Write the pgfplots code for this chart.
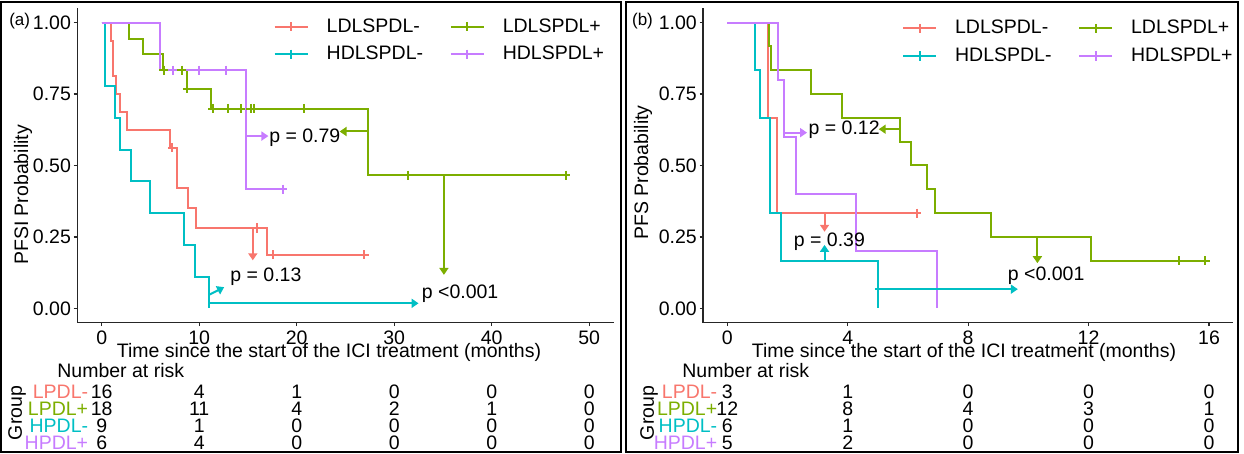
\documentclass[border=0pt]{standalone}
\usepackage{fontspec}
\setmainfont{Liberation Sans}
\usepackage{pgfplots}
\pgfplotsset{compat=1.18}
\usetikzlibrary{arrows.meta}
\definecolor{cR}{HTML}{F8766D}
\definecolor{cG}{HTML}{7CAE00}
\definecolor{cC}{HTML}{00BFC4}
\definecolor{cP}{HTML}{C77CFF}
\newcommand{\fs}{\fontsize{9.75}{11.7}\selectfont}
\tikzset{arr/.style={line width=1pt, -{Triangle[length=3.5pt,width=4.5pt]}}}
\pgfplotsset{
  km/.style={scale only axis, axis x line*=bottom, axis y line*=left,
    axis line style={line width=0.75pt, black!85, -},
    tick style={line width=0.6pt, black!85}, tick align=outside, major tick length=1.8pt,
    ymin=-0.05, ymax=1.05, ytick={0,0.25,0.5,0.75,1}, yticklabels={0.00,0.25,0.50,0.75,1.00},
    /pgf/number format/assume math mode=true,
    ticklabel style={font=\fs},
    xticklabel style={anchor=north, inner sep=0pt, yshift=-2.0pt},
    yticklabel style={anchor=east, inner sep=0pt, xshift=-1.2pt},
    clip=false,
    legend columns=2,
    legend image code/.code={\draw[mark repeat=2,mark phase=2,##1] plot coordinates {(0pt,0pt) (8.25pt,0pt) (16.5pt,0pt)};},
    legend style={draw=none, fill=none, inner sep=0pt, font=\fs, row sep=5.5pt,
      cells={anchor=west}, nodes={inner sep=0pt},
      /tikz/every odd column/.append style={column sep=9pt},
      /tikz/every even column/.append style={column sep=13.3pt}},
  },
  crv/.style={const plot, line width=1pt, forget plot},
  cen/.style={only marks, mark=+, mark size=2.3pt, mark options={line width=1pt}, forget plot},
  rt/.style={scale only axis, height=34pt, ymin=0.5, ymax=4.5,
    axis line style={draw=none}, xtick=\empty, ytick={1,2,3,4},
    yticklabels={\textcolor{cP}{HPDL+},\textcolor{cC}{HPDL-},\textcolor{cG}{LPDL+},\textcolor{cR}{LPDL-}},
    major tick length=0pt, clip=false,
    yticklabel style={anchor=east, inner sep=0pt, font=\fs}},
  rtn/.style={only marks, mark=none, nodes near coords, point meta=explicit symbolic,
    nodes near coords style={anchor=center, font=\fs, inner sep=0pt, black}},
}
\begin{document}
\begin{tikzpicture}
% ---------------- panel (a) ----------------
\begin{axis}[km, at={(38.65pt,65.7pt)}, anchor=south west, width=268.15pt, height=157.1pt,
  xmin=-2.5, xmax=52.5, xtick={0,10,20,30,40,50},
  legend style={at={(0.3655,0.9694)}, anchor=north west}]
\addlegendimage{cR, line width=1pt, mark=+, mark size=2.3pt, mark options={line width=1pt}}
\addlegendentry{LDLSPDL-}
\addlegendimage{cG, line width=1pt, mark=+, mark size=2.3pt, mark options={line width=1pt}}
\addlegendentry{LDLSPDL+}
\addlegendimage{cC, line width=1pt, mark=+, mark size=2.3pt, mark options={line width=1pt}}
\addlegendentry{HDLSPDL-}
\addlegendimage{cP, line width=1pt, mark=+, mark size=2.3pt, mark options={line width=1pt}}
\addlegendentry{HDLSPDL+}
% curves
\addplot[crv, cR] coordinates {(0,1) (0.95,0.9375) (1.13,0.8125) (1.47,0.75) (1.88,0.6875) (2.56,0.625) (7.0,0.5625) (7.69,0.4219) (8.82,0.3516) (9.64,0.2813) (17.0,0.1875) (26.9,0.1875)};
\addplot[cen, cR] coordinates {(7.25,0.5625) (15.9,0.2813) (17.6,0.1875) (26.9,0.1875)};
\addplot[crv, cG] coordinates {(0,1) (2.8,0.9444) (4.2,0.8889) (6.26,0.8333) (8.7,0.7692) (11.18,0.6993) (27.35,0.4662) (47.6,0.4662)};
\addplot[cen, cG] coordinates {(6.4,0.8333) (8.2,0.8333) (8.8,0.7692) (11.4,0.6993) (12.99,0.6993) (14.26,0.6993) (15.28,0.6993) (15.6,0.6993) (20.75,0.6993) (31.4,0.4662) (47.6,0.4662)};
\addplot[crv, cC] coordinates {(0,1) (0.34,0.7778) (1.37,0.6667) (1.87,0.5556) (3.0,0.4444) (5.0,0.3333) (8.4,0.2222) (9.6,0.1111) (11.0,0) (11.0,0)};
\addplot[crv, cP] coordinates {(0,1) (6.0,0.8333) (14.8,0.4167) (18.56,0.4167)};
\addplot[cen, cP] coordinates {(7.3,0.8333) (10.0,0.8333) (12.7,0.8333) (18.56,0.4167)};
% annotations
\draw[arr, cP] (axis cs:14.87,0.603) -- (axis cs:17.1,0.603);
\draw[arr, cG] (axis cs:27.35,0.619) -- (axis cs:24.4,0.619);
\draw[arr, cR] (axis cs:15.5,0.281) -- (axis cs:15.5,0.168);
\draw[arr, cC] (axis cs:11.0,0.047) -- (axis cs:12.56,0.074);
\draw[arr, cC] (axis cs:11.0,0.0175) -- (axis cs:32.5,0.0175);
\draw[arr, cG] (axis cs:35.1,0.466) -- (axis cs:35.1,0.117);
\node[anchor=base west, inner sep=0pt, font=\fs] at (axis cs:17.15,0.58) {p = 0.79};
\node[anchor=base west, inner sep=0pt, font=\fs] at (axis cs:13.16,0.093) {p = 0.13};
\node[anchor=base west, inner sep=0pt, font=\fs] at (axis cs:32.8,0.035) {p <0.001};
\end{axis}
% risk table (a)
\begin{axis}[rt, at={(38.65pt,1.5pt)}, anchor=south west, width=268.15pt, xmin=-2.5, xmax=52.5,
  yticklabel style={xshift=5.6pt}]
\addplot[rtn] table[meta=n] {
x y n
0 4 16
10 4 4
20 4 1
30 4 0
40 4 0
50 4 0
0 3 18
10 3 11
20 3 4
30 3 2
40 3 1
50 3 0
0 2 9
10 2 1
20 2 0
30 2 0
40 2 0
50 2 0
0 1 6
10 1 4
20 1 0
30 1 0
40 1 0
50 1 0
};
\end{axis}
% ---------------- panel (b) ----------------
\begin{axis}[km, at={(351.6pt,65.7pt)}, anchor=south west, width=264.95pt, height=157.1pt,
  xmin=-0.8, xmax=16.8, xtick={0,4,8,12,16},
  legend style={at={(0.3746,0.964)}, anchor=north west}]
\addlegendimage{cR, line width=1pt, mark=+, mark size=2.3pt, mark options={line width=1pt}}
\addlegendentry{LDLSPDL-}
\addlegendimage{cG, line width=1pt, mark=+, mark size=2.3pt, mark options={line width=1pt}}
\addlegendentry{LDLSPDL+}
\addlegendimage{cC, line width=1pt, mark=+, mark size=2.3pt, mark options={line width=1pt}}
\addlegendentry{HDLSPDL-}
\addlegendimage{cP, line width=1pt, mark=+, mark size=2.3pt, mark options={line width=1pt}}
\addlegendentry{HDLSPDL+}
\addplot[crv, cR] coordinates {(0,1) (1.35,0.6667) (1.65,0.3333) (6.29,0.3333)};
\addplot[cen, cR] coordinates {(6.29,0.3333)};
\addplot[crv, cG] coordinates {(0,1) (1.40,0.9167) (1.45,0.8333) (2.78,0.75) (3.81,0.6667) (5.75,0.5833) (6.11,0.5) (6.62,0.4167) (6.89,0.3333) (8.76,0.25) (12.09,0.1667) (15.87,0.1667)};
\addplot[cen, cG] coordinates {(15.0,0.1667) (15.87,0.1667)};
\addplot[crv, cC] coordinates {(0,1) (0.92,0.8333) (1.09,0.6667) (1.42,0.3333) (1.78,0.1667) (5.01,0) (5.01,0)};
\addplot[crv, cP] coordinates {(0,1) (1.68,0.8) (1.87,0.6) (2.29,0.4) (4.26,0.2) (6.98,0) (6.98,0)};
\draw[arr, cP] (axis cs:1.87,0.615) -- (axis cs:2.65,0.615);
\draw[arr, cG] (axis cs:5.75,0.627) -- (axis cs:5.03,0.627);
\draw[arr, cR] (axis cs:3.23,0.333) -- (axis cs:3.23,0.268);
\draw[arr, cC] (axis cs:3.23,0.163) -- (axis cs:3.23,0.222);
\draw[arr, cG] (axis cs:10.3,0.25) -- (axis cs:10.3,0.158);
\draw[arr, cC] (axis cs:4.9,0.067) -- (axis cs:9.65,0.067);
\node[anchor=base west, inner sep=0pt, font=\fs] at (axis cs:2.69,0.607) {p = 0.12};
\node[anchor=base west, inner sep=0pt, font=\fs] at (axis cs:2.2,0.216) {p = 0.39};
\node[anchor=base west, inner sep=0pt, font=\fs] at (axis cs:9.31,0.099) {p <0.001};
\end{axis}
% risk table (b)
\begin{axis}[rt, at={(351.6pt,1.5pt)}, anchor=south west, width=264.95pt, xmin=-0.8, xmax=16.8,
  yticklabel style={xshift=7.2pt}]
\addplot[rtn] table[meta=n] {
x y n
0 4 3
4 4 1
8 4 0
12 4 0
16 4 0
0 3 12
4 3 8
8 3 4
12 3 3
16 3 1
0 2 6
4 2 1
8 2 0
12 2 0
16 2 0
0 1 5
4 1 2
8 1 0
12 1 0
16 1 0
};
\end{axis}
% ---------------- free text ----------------
\node[font=\fs, rotate=90] at (11.5pt,129.5pt) {PFSI Probability};
\node[font=\fs, rotate=90] at (321.6pt,140.75pt) {PFS Probability};
\node[font=\fs, inner sep=0pt] at (164.5pt,50.6pt) {Time since the start of the ICI treatment (months)};
\node[font=\fs, inner sep=0pt] at (482pt,50.6pt) {Time since the start of the ICI treatment (months)};
\node[font=\fs, anchor=west, inner sep=0pt] at (28.5pt,41.7pt) {Number at risk};
\node[font=\fs, anchor=west, inner sep=0pt] at (341pt,41.7pt) {Number at risk};
\node[font=\fs, rotate=90] at (8.6pt,20.5pt) {Group};
\node[font=\fs, rotate=90] at (324.5pt,20.5pt) {Group};
\node[font=\fontsize{8.5}{10}\selectfont] at (9.85pt,216.6pt) {(a)};
\node[font=\fontsize{8.5}{10}\selectfont] at (321.25pt,216.6pt) {(b)};
\draw[line width=1pt] (0.65pt,1.15pt) rectangle (310.4pt,226pt);
\draw[line width=1pt] (312.75pt,1.15pt) rectangle (619pt,226pt);
\pgfresetboundingbox
\path[use as bounding box] (0,0) rectangle (622pt,227pt);
\end{tikzpicture}
\end{document}
